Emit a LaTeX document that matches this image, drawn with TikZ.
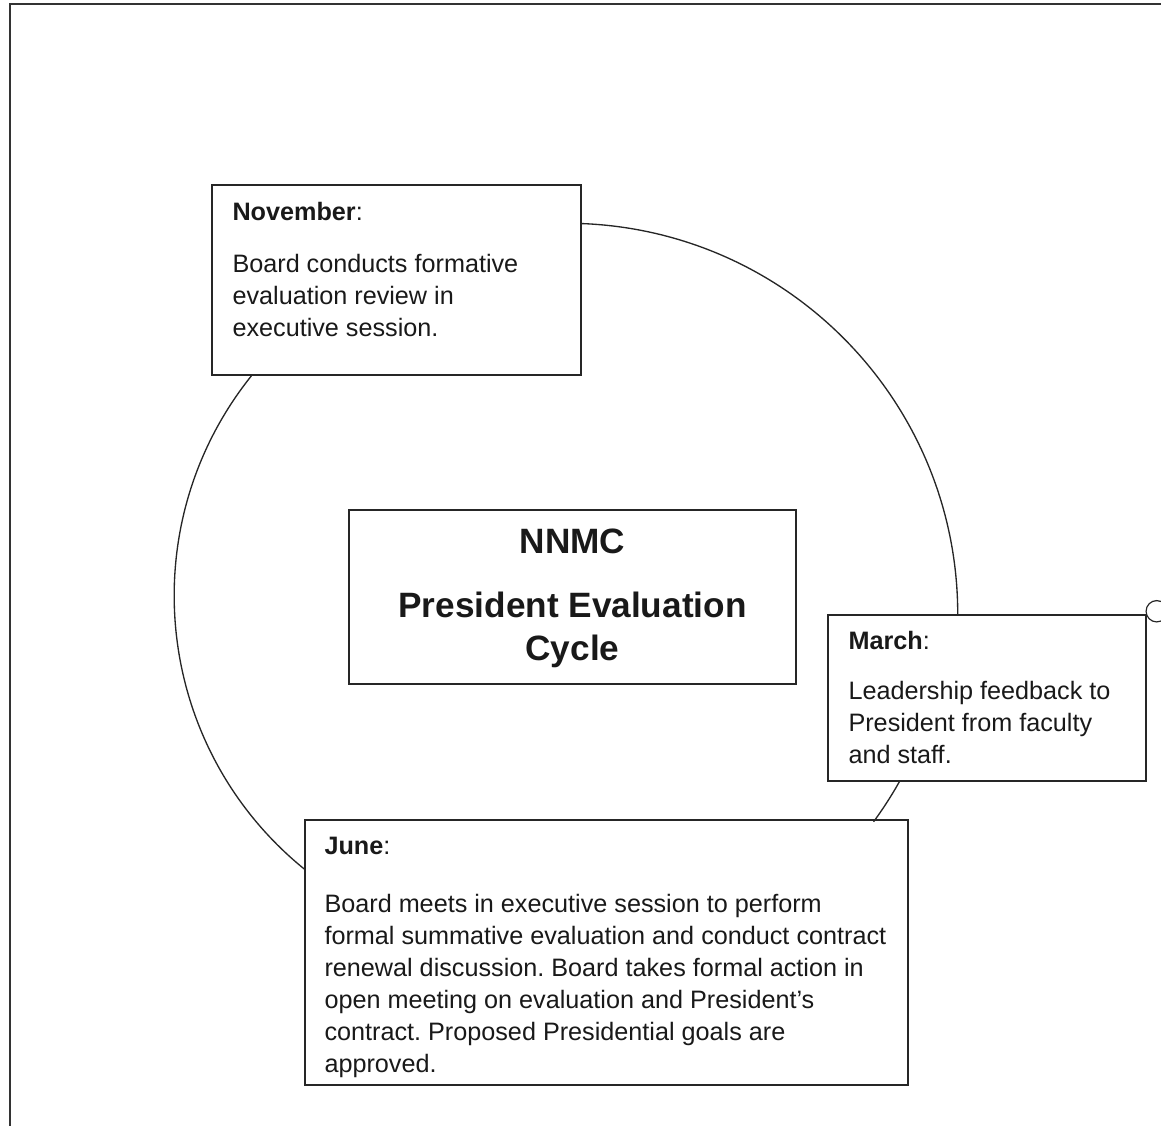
\documentclass[tikz,border=0pt]{standalone}
\usepackage{fontspec}
\setmainfont{Liberation Sans}
\usetikzlibrary{positioning}
\frenchspacing

\begin{document}
\begin{tikzpicture}[x=0.75pt,y=0.75pt,on grid,
   panel/.style={rectangle,draw=black!85,line width=1.1pt,inner sep=0pt},
   note/.style={anchor=north west,inner sep=0pt,align=left,text=black!90,
      font=\fontsize{18.9pt}{24pt}\selectfont},
   ring/.style={draw=black!85,line width=1pt}]
   \useasboundingbox (0,0) rectangle (1161,-1126);
   \clip (0,0) rectangle (1161,-1126);
   \draw[black!80,line width=1pt] (10,-4) rectangle (1180,-1150);
   \node[panel,minimum width=335.25pt,minimum height=130.5pt] (title) at (572.5,-597) {};
   \node[panel,minimum width=276.75pt,minimum height=142.5pt] (nov) [above left=237.75pt and 132pt of title] {};
   \node[panel,minimum width=238.5pt,minimum height=124.5pt] (mar) [below right=75.75pt and 310.875pt of title] {};
   \node[panel,minimum width=452.25pt,minimum height=198.75pt] (jun) [below right=266.625pt and 25.5pt of title] {};
   \node[note,anchor=north,align=center,font=\fontsize{26.4pt}{32pt}\selectfont\bfseries] (title_txt)
      at ([shift={(0,-19)}]title.north) {NNMC\\[16.5pt]President Evaluation\\Cycle};
   \node[note] (nov_txt) at ([shift={(21,-18)}]nov.north west)
      {\textbf{November}:\\[15pt]Board conducts formative\\evaluation review in\\executive session.};
   \node[note] (mar_txt) at ([shift={(21,-17)}]mar.north west)
      {\textbf{March}:\\[13.5pt]Leadership feedback to\\President from faculty\\and staff.};
   \node[note] (jun_txt) at ([shift={(20,-18)}]jun.north west)
      {\textbf{June}:\\[19.5pt]Board meets in executive session to perform\\formal summative evaluation and conduct contract\\renewal discussion. Board takes formal action in\\open meeting on evaluation and President’s\\contract. Proposed Presidential goals are\\approved.};
   \node[circle,draw=black!85,line width=0.9pt,minimum size=16pt,inner sep=0pt] (knob)
      at ([shift={(10,3)}]mar.north east) {};
   \draw[ring] ([shift={(0,-39.3)}]nov.north east) arc[start angle=87.8,end angle=0,radius=391];
   \draw[ring] ([shift={(40.2,0)}]nov.south west) arc[start angle=141.3,end angle=230.9,radius=352];
   \draw[ring] ([shift={(72.1,0)}]mar.south west) arc[start angle=-29.3,end angle=-36.3,radius=390];
\end{tikzpicture}
\end{document}
